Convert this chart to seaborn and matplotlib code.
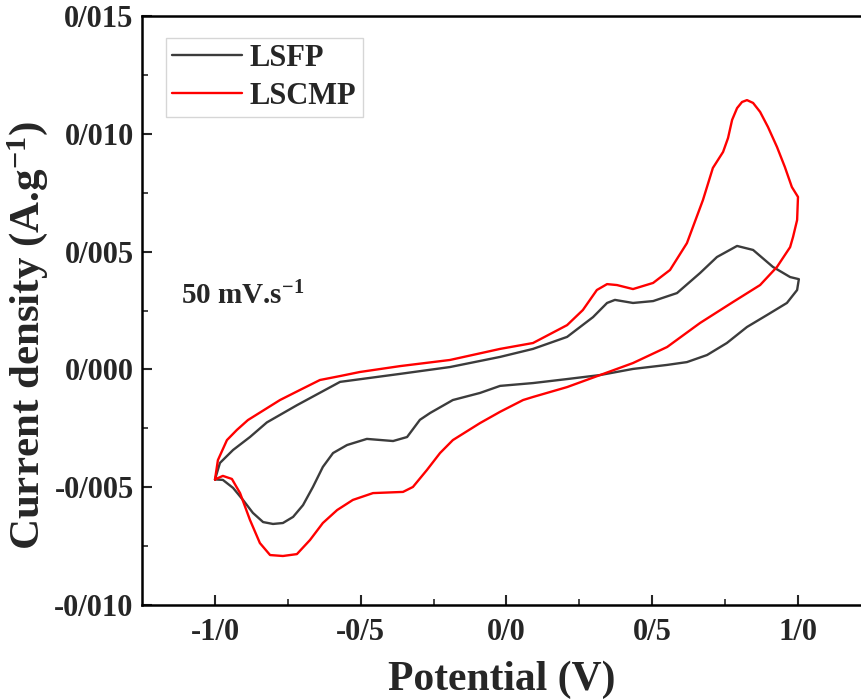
import numpy as np
import pandas as pd
import matplotlib
matplotlib.use("Agg")
import matplotlib.pyplot as plt
import seaborn as sns

# Cyclic voltammograms at 50 mV/s, potential (V) vs current density (A/g)
# LSFP: anodic sweep -1 -> 1, then cathodic sweep 1 -> -1
lsfp_fwd_v = [-1.000, -0.983, -0.938, -0.880, -0.822, -0.719, -0.571, -0.365, -0.194,
              -0.022, 0.091, 0.208, 0.297, 0.345, 0.372, 0.434, 0.503, 0.585, 0.664,
              0.722, 0.791, 0.846, 0.914, 0.973, 1.003]
lsfp_fwd_j = [-0.00467, -0.00397, -0.00342, -0.00287, -0.00225, -0.00152, -0.00053,
              -0.00019, 0.00010, 0.00053, 0.00087, 0.00138, 0.00222, 0.00282, 0.00295,
              0.00282, 0.00290, 0.00324, 0.00409, 0.00477, 0.00524, 0.00507, 0.00435,
              0.00392, 0.00383]
lsfp_rev_v = [0.997, 0.962, 0.894, 0.825, 0.756, 0.688, 0.619, 0.551, 0.434, 0.321, 0.208,
              0.091, -0.022, -0.091, -0.184, -0.262, -0.297, -0.341, -0.389, -0.479,
              -0.547, -0.595, -0.630, -0.664, -0.698, -0.732, -0.767, -0.801, -0.835,
              -0.870, -0.904, -0.938, -0.973, -1.000]
lsfp_rev_j = [0.00337, 0.00282, 0.00231, 0.00180, 0.00112, 0.00061, 0.00031, 0.00019,
              0.00002, -0.00024, -0.00041, -0.00058, -0.00070, -0.00100, -0.00130,
              -0.00185, -0.00214, -0.00287, -0.00304, -0.00295, -0.00321, -0.00355,
              -0.00414, -0.00499, -0.00576, -0.00626, -0.00652, -0.00656, -0.00648,
              -0.00609, -0.00554, -0.00503, -0.00469, -0.00467]

# LSCMP
lscmp_fwd_v = [-1.000, -0.990, -0.959, -0.925, -0.887, -0.777, -0.708, -0.640, -0.570,
               -0.503, -0.365, -0.194, -0.022, 0.091, 0.208, 0.262, 0.310, 0.345, 0.379,
               0.434, 0.503, 0.561, 0.619, 0.674, 0.708, 0.743, 0.760, 0.774, 0.791,
               0.808, 0.825, 0.846, 0.870, 0.897, 0.928, 0.955, 0.979, 1.000]
lscmp_fwd_j = [-0.00467, -0.00385, -0.00300, -0.00257, -0.00215, -0.00130, -0.00087,
               -0.00045, -0.00028, -0.00011, 0.00014, 0.00040, 0.00087, 0.00112, 0.00188,
               0.00252, 0.00337, 0.00362, 0.00358, 0.00341, 0.00367, 0.00422, 0.00536,
               0.00719, 0.00855, 0.00923, 0.00982, 0.01059, 0.01109, 0.01135, 0.01143,
               0.01131, 0.01093, 0.01029, 0.00944, 0.00859, 0.00774, 0.00732]
lscmp_rev_v = [0.997, 0.983, 0.973, 0.928, 0.870, 0.777, 0.664, 0.551, 0.434, 0.321, 0.208,
               0.091, 0.057, -0.022, -0.091, -0.184, -0.228, -0.273, -0.321, -0.355,
               -0.458, -0.527, -0.581, -0.630, -0.674, -0.719, -0.767, -0.811, -0.846,
               -0.880, -0.914, -0.942, -0.973, -1.000]
lscmp_rev_j = [0.00634, 0.00562, 0.00519, 0.00435, 0.00358, 0.00286, 0.00197, 0.00095,
               0.00027, -0.00024, -0.00075, -0.00117, -0.00130, -0.00180, -0.00228,
               -0.00300, -0.00355, -0.00427, -0.00499, -0.00520, -0.00525, -0.00554,
               -0.00597, -0.00652, -0.00724, -0.00784, -0.00792, -0.00788, -0.00737,
               -0.00639, -0.00525, -0.00465, -0.00452, -0.00467]

x_ticks = [-1.0, -0.5, 0.0, 0.5, 1.0]
x_tick_labels = ["-1/0", "-0/5", "0/0", "0/5", "1/0"]
y_ticks = [-0.010, -0.005, 0.000, 0.005, 0.010, 0.015]
y_tick_labels = ["-0/010", "-0/005", "0/000", "0/005", "0/010", "0/015"]

sns.set_style("ticks")
plt.rcParams["font.family"] = ["Liberation Serif", "DejaVu Serif"]
plt.rcParams["font.weight"] = "bold"
plt.rcParams["mathtext.fontset"] = "custom"
plt.rcParams["mathtext.rm"] = "Liberation Serif:bold"
plt.rcParams["mathtext.bf"] = "Liberation Serif:bold"
plt.rcParams["mathtext.default"] = "rm"

lsfp = pd.DataFrame({"V": lsfp_fwd_v + lsfp_rev_v, "J": lsfp_fwd_j + lsfp_rev_j})
lscmp = pd.DataFrame({"V": lscmp_fwd_v + lscmp_rev_v, "J": lscmp_fwd_j + lscmp_rev_j})

fig = plt.figure(figsize=(8.62, 7.0), dpi=100)
ax = fig.add_axes([142 / 862, 1 - 605 / 700, 720 / 862, 589 / 700])

sns.lineplot(data=lsfp, x="V", y="J", sort=False, estimator=None, ax=ax,
             color="#3c3c3c", lw=1.7, label="LSFP")
sns.lineplot(data=lscmp, x="V", y="J", sort=False, estimator=None, ax=ax,
             color="#ff0000", lw=1.7, label="LSCMP")

ax.set_xlim(-1.2504, 1.2196)
ax.set_ylim(-0.010, 0.015)
ax.set_xticks(x_ticks, x_tick_labels)
ax.set_yticks(y_ticks, y_tick_labels)
ax.set_xticks([-0.75, -0.25, 0.25, 0.75], minor=True)
ax.set_yticks([-0.0075, -0.0025, 0.0025, 0.0075, 0.0125], minor=True)
ax.tick_params(which="major", direction="in", length=7, width=1.5, labelsize=22, pad=9)
ax.tick_params(which="minor", direction="in", length=4, width=1.2)
ax.tick_params(axis="y", pad=6)
for lab in ax.get_xticklabels() + ax.get_yticklabels():
    lab.set_fontweight("bold")

for side in ["left", "bottom", "top"]:
    ax.spines[side].set_linewidth(1.8)
    ax.spines[side].set_color("black")
ax.spines["right"].set_visible(False)

ax.set_xlabel("Potential (V)", fontsize=30, fontweight="bold", labelpad=10)
ax.set_ylabel("Current density (A.g$^{-1}$)", fontsize=31, fontweight="bold")
ax.yaxis.set_label_coords(-0.128, 0.457)

ax.text(-1.115, 0.0031, "50 mV.s$^{-1}$", fontsize=21, fontweight="bold", va="center")

leg = ax.legend(loc="upper left", bbox_to_anchor=(0.033, 0.963), fontsize=22,
                frameon=True, fancybox=False, handlelength=2.3, handletextpad=0.25,
                borderpad=0.2, labelspacing=0.3, borderaxespad=0)
leg.get_frame().set_edgecolor("#cccccc")
leg.get_frame().set_linewidth(1.0)
for t in leg.get_texts():
    t.set_fontweight("bold")

fig.savefig("out.png", dpi=100)
